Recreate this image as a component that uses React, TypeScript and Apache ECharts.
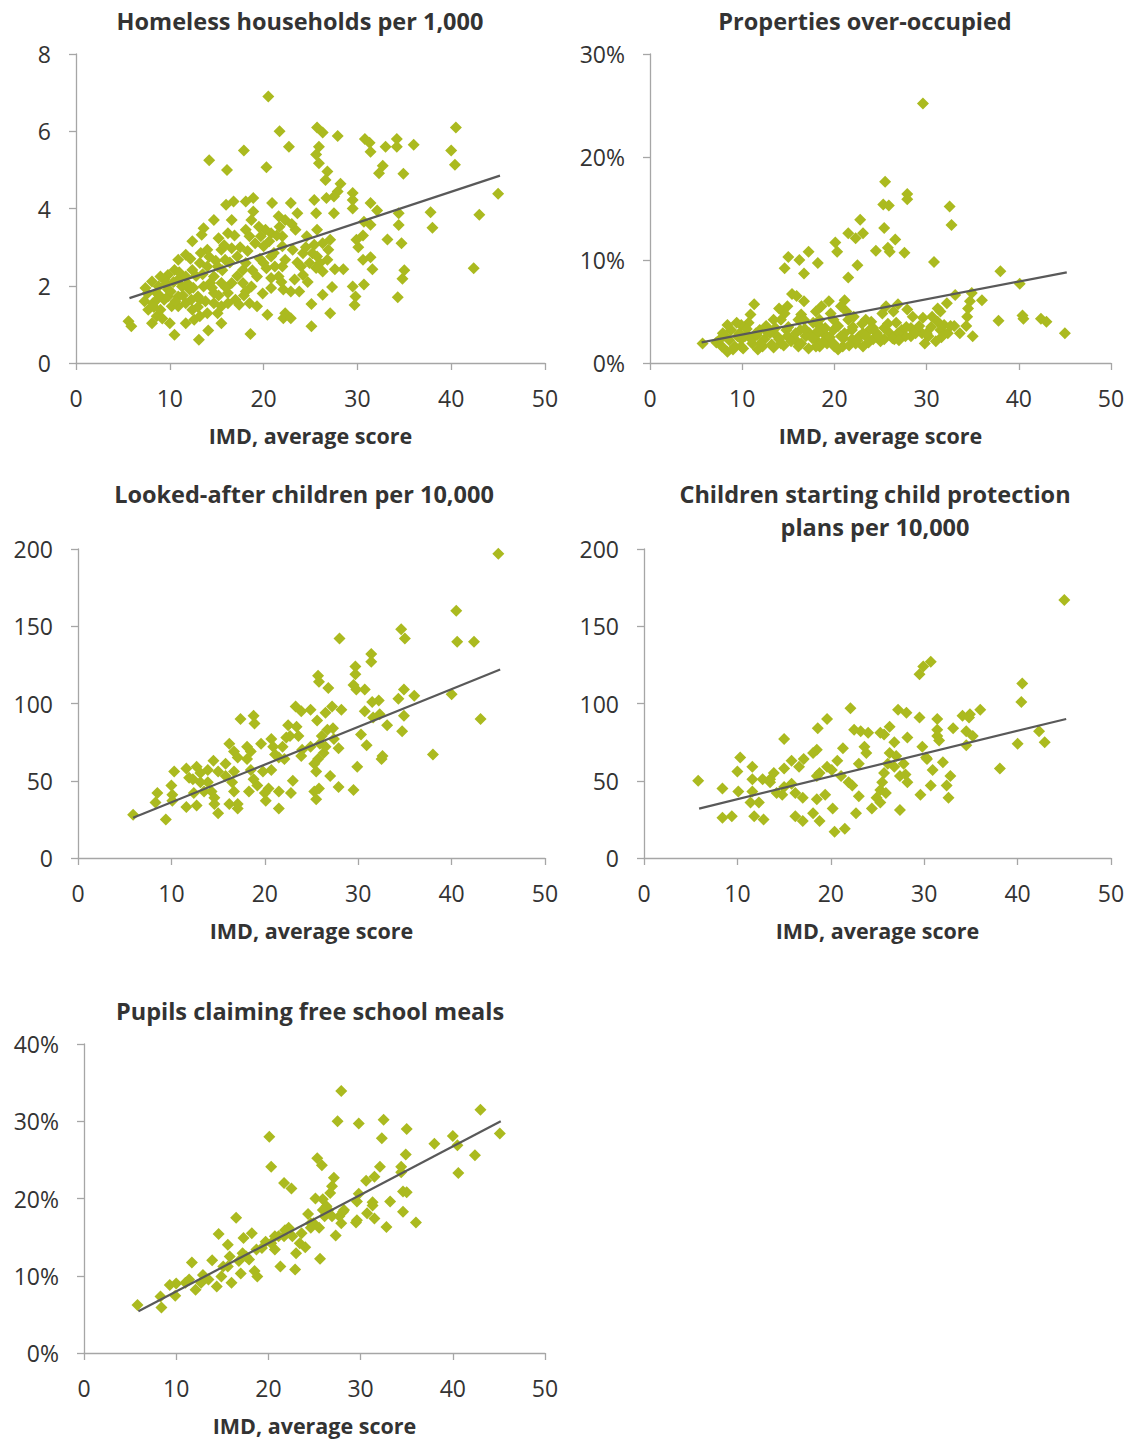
import React, { useEffect, useRef } from "react";
import * as echarts from "echarts";

// IMD average score (x) vs indicator (y)
const homeless: number[][] = [
  [20.5, 6.9], [21.7, 6.0], [22.7, 5.6], [17.9, 5.5], [14.2, 5.25], [16.1, 5.0], [20.3, 5.07],
  [25.7, 6.1], [26.3, 5.97], [27.9, 5.88], [25.9, 5.6], [25.6, 5.4], [25.9, 5.17], [26.8, 4.96],
  [26.6, 4.74], [30.8, 5.8], [31.3, 5.7], [31.4, 5.47], [33.0, 5.6], [34.2, 5.8], [34.2, 5.6],
  [36.0, 5.65], [32.7, 5.11], [32.3, 4.91], [34.9, 4.9], [40.0, 5.5], [40.5, 6.1], [40.4, 5.13],
  [45.0, 4.38], [37.8, 3.9], [38.0, 3.5], [43.0, 3.84], [42.4, 2.45], [34.4, 3.88], [34.4, 3.57],
  [34.7, 3.1], [35.0, 2.4], [34.8, 2.18], [34.3, 1.7], [33.2, 3.2], [32.1, 3.95], [31.4, 4.14],
  [31.4, 3.58], [31.4, 2.74], [31.6, 2.43], [30.6, 2.67], [30.7, 2.03], [29.5, 1.98], [29.8, 1.72],
  [29.7, 1.5], [30.1, 3.0], [29.9, 3.19], [30.6, 3.3], [30.7, 3.66], [29.5, 4.4], [29.5, 4.22],
  [29.5, 4.0], [28.2, 4.64], [27.9, 4.44], [27.5, 4.31], [26.7, 4.27], [27.5, 3.88], [27.1, 3.19],
  [26.9, 2.93], [26.8, 2.67], [26.3, 2.37], [28.5, 2.43], [27.6, 2.43], [27.3, 1.97], [27.1, 1.29],
  [26.3, 1.77], [25.1, 1.53], [25.1, 0.95], [25.4, 4.22], [25.6, 3.88], [25.7, 3.45], [25.4, 3.06],
  [25.2, 2.84], [25.7, 2.76], [25.6, 2.46], [24.6, 3.28], [24.2, 2.84], [24.0, 2.5], [24.2, 2.28],
  [23.6, 3.88], [23.4, 3.45], [22.9, 4.14], [22.3, 3.7], [21.7, 3.53], [20.9, 4.14], [21.6, 3.8],
  [20.8, 3.36], [20.2, 3.45], [19.7, 3.28], [18.9, 4.27], [18.1, 4.18], [18.9, 3.92], [18.7, 3.7],
  [18.1, 3.45], [18.5, 3.28], [16.8, 4.18], [16.0, 4.1], [16.6, 3.7], [16.2, 3.36], [15.2, 3.23],
  [14.7, 3.7], [13.6, 3.49], [13.4, 3.32], [12.4, 3.15], [14.0, 2.93], [11.7, 2.8], [10.9, 2.67],
  [10.5, 2.41], [9.8, 2.28], [9.4, 2.16], [8.8, 1.98], [8.1, 2.11], [7.4, 1.94], [7.3, 1.6],
  [7.7, 1.38], [8.1, 1.03], [8.6, 1.21], [5.6, 1.08], [5.9, 0.95], [10.0, 1.03], [10.5, 0.73],
  [11.7, 1.03], [13.1, 0.6], [14.1, 0.84], [15.5, 1.03], [14.0, 1.29], [13.2, 1.21], [12.4, 1.38],
  [11.7, 1.55], [10.9, 1.72], [10.2, 1.47], [9.4, 1.64], [9.8, 1.9], [12.1, 1.9], [13.0, 1.72],
  [14.7, 1.81], [15.5, 1.47], [16.2, 1.81], [17.0, 1.64], [17.4, 1.51], [18.5, 1.55], [19.3, 1.47],
  [18.6, 0.75], [20.4, 1.25], [20.8, 1.94], [22.3, 1.29], [22.1, 1.16], [22.9, 1.16], [22.1, 1.9],
  [22.9, 1.85], [23.8, 1.85], [23.3, 2.16], [21.6, 2.24], [21.2, 2.5], [20.0, 2.59], [20.8, 2.76],
  [19.3, 2.24], [18.7, 1.98], [18.1, 1.85], [17.8, 2.41], [18.1, 2.59], [17.2, 2.76], [16.6, 2.97],
  [15.9, 2.67], [15.1, 2.5], [14.7, 2.24], [14.0, 2.5], [13.2, 2.59], [12.4, 2.41], [11.7, 2.24],
  [10.9, 2.16], [13.6, 1.98], [14.3, 2.07], [15.5, 2.07], [16.6, 2.07], [17.8, 2.07], [20.0, 3.02],
  [22.3, 2.67], [22.0, 3.02], [23.1, 2.93], [22.0, 3.28], [19.5, 3.53], [15.5, 2.93], [9.0, 2.24],
  [8.6, 1.81], [8.2, 1.55], [9.8, 1.72], [11.3, 1.98], [10.9, 1.47], [9.0, 1.38], [8.6, 1.64],
  [12.3, 1.64], [12.6, 1.12], [13.2, 1.64], [14.7, 1.55], [15.1, 1.29], [16.2, 1.55], [20.8, 2.2],
  [22.0, 2.5], [26.3, 3.1], [26.0, 2.59], [24.9, 2.59],
  [7.6, 1.8], [8.3, 1.45], [8.9, 1.75], [9.2, 1.15], [9.6, 2.05], [10.1, 1.85], [10.4, 2.1],
  [10.6, 1.6], [11.0, 2.35], [11.4, 1.75], [11.9, 2.05], [12.2, 2.7], [12.5, 1.95], [12.8, 2.25],
  [13.0, 1.45], [13.3, 2.85], [13.5, 2.3], [13.8, 1.6], [14.2, 2.75], [14.5, 1.95], [14.9, 2.65],
  [15.2, 1.75], [15.6, 2.4], [15.8, 3.05], [16.0, 1.95], [16.4, 2.6], [16.9, 3.3], [17.2, 2.25],
  [17.5, 3.0], [17.9, 1.75], [18.3, 2.9], [18.8, 2.4], [19.1, 3.1], [19.6, 2.7], [19.9, 1.8],
  [20.3, 2.45], [20.6, 3.15], [21.1, 2.85], [21.4, 3.3], [21.9, 2.1], [23.6, 2.6], [24.5, 3.0],
  [23.0, 3.6], [24.7, 2.1],
];
const homelessTrend: number[][] = [[5.7, 1.68], [45.2, 4.85]];

const overOccupied: number[][] = [
  [29.6, 25.2], [25.5, 17.6], [27.9, 16.4], [27.9, 15.9], [25.3, 15.4], [25.9, 15.3], [32.5, 15.2],
  [32.7, 13.4], [25.4, 13.1], [22.8, 13.9], [21.5, 12.6], [22.3, 12.1], [23.1, 12.6], [26.6, 12.0],
  [25.8, 11.2], [26.0, 10.8], [24.5, 10.9], [27.6, 10.7], [20.1, 11.7], [20.3, 10.8], [22.5, 9.5],
  [21.5, 8.3], [15.0, 10.3], [14.6, 9.2], [16.2, 10.0], [17.2, 10.8], [18.2, 9.7], [16.7, 8.7],
  [30.8, 9.8], [38.0, 8.9], [40.1, 7.7], [37.8, 4.1], [40.4, 4.6], [40.5, 4.3], [42.4, 4.3],
  [43.0, 4.0], [45.0, 2.9], [36.0, 6.1], [34.9, 6.8], [34.7, 6.0], [34.5, 5.3], [34.4, 4.5],
  [34.3, 3.6], [35.0, 2.6], [33.1, 6.6], [33.0, 3.6], [32.2, 5.8], [31.5, 5.0], [31.2, 5.3],
  [30.6, 4.5], [29.6, 4.4], [31.2, 4.0], [31.5, 3.2], [32.3, 2.9], [31.0, 2.1], [29.8, 1.9],
  [29.5, 2.9], [30.2, 2.6], [27.9, 5.2], [26.9, 5.7], [26.4, 5.0], [25.6, 5.5], [25.2, 4.8],
  [25.0, 2.1], [26.5, 2.3], [27.3, 3.2], [28.3, 3.4], [28.3, 2.6], [27.7, 2.6], [26.7, 3.9],
  [26.0, 2.9], [25.4, 3.4], [24.6, 2.9], [23.8, 3.2], [23.4, 4.2], [24.0, 4.0], [23.1, 1.6],
  [22.3, 1.9], [22.7, 2.6], [21.9, 3.2], [21.5, 4.2], [21.1, 6.1], [20.7, 5.5], [21.3, 5.0],
  [22.1, 4.5], [20.4, 1.3], [20.7, 2.6], [19.9, 3.2], [19.6, 4.8], [19.4, 6.0], [18.6, 5.5],
  [18.0, 5.0], [17.9, 2.3], [18.4, 1.6], [19.2, 1.9], [18.8, 2.9], [18.4, 3.6], [17.7, 3.9],
  [17.3, 2.9], [16.7, 6.0], [15.9, 6.5], [15.4, 6.7], [16.4, 4.7], [16.1, 4.2], [16.9, 2.6],
  [16.1, 1.6], [15.7, 2.3], [14.9, 5.5], [14.6, 4.8], [14.0, 5.3], [14.2, 4.2], [14.8, 3.2],
  [14.2, 1.9], [13.4, 1.5], [13.0, 2.9], [12.4, 2.3], [11.9, 3.2], [11.3, 5.7], [10.9, 4.7],
  [10.7, 3.9], [11.7, 1.3], [11.1, 1.9], [10.3, 2.6], [9.9, 3.7], [9.4, 3.9], [8.8, 3.2],
  [8.4, 3.7], [8.2, 2.6], [7.8, 1.6], [8.4, 1.1], [7.6, 2.3], [5.7, 1.9], [9.2, 1.6],
  [9.5, 2.6], [9.9, 1.6], [12.2, 1.6], [13.8, 2.6], [14.9, 2.6], [16.3, 3.2], [18.0, 2.7],
  [19.9, 1.9], [21.1, 2.9], [23.1, 2.9], [24.2, 2.3], [25.4, 2.3], [26.9, 2.9], [28.5, 4.5],
  [30.0, 2.9], [31.9, 3.7], [13.4, 4.2], [12.6, 3.6], [11.5, 2.9], [10.7, 2.6], [16.7, 4.2],
  [18.4, 4.2], [19.9, 4.2], [18.0, 1.6], [20.9, 1.6], [21.9, 2.3], [23.4, 2.6], [19.2, 2.6],
  [9.9, 2.3],
  [7.2, 2.0], [7.9, 2.9], [8.6, 2.2], [9.0, 1.3], [9.7, 2.9], [10.1, 1.4], [10.5, 3.3],
  [11.0, 2.3], [11.6, 2.7], [12.0, 1.9], [12.7, 3.0], [13.2, 1.8], [13.6, 3.4], [14.0, 2.3],
  [14.5, 1.7], [15.0, 3.5], [15.3, 2.1], [15.8, 2.9], [16.4, 1.9], [16.8, 3.3], [17.2, 1.4],
  [17.6, 2.4], [18.2, 3.1], [18.7, 2.0], [19.0, 3.4], [19.5, 2.5], [20.0, 1.6], [20.4, 3.6],
  [21.0, 2.4], [21.6, 1.7], [22.0, 3.5], [22.5, 2.2], [23.0, 3.8], [23.7, 2.0], [24.2, 3.4],
  [24.8, 2.6], [25.8, 3.8], [26.3, 2.4], [27.0, 2.2], [27.8, 3.5], [28.8, 2.9], [29.2, 3.6],
  [30.5, 3.5], [31.6, 2.5], [32.6, 3.6], [33.6, 2.9],
];
const overOccupiedTrend: number[][] = [[5.6, 2.0], [45.2, 8.8]];

const lookedAfter: number[][] = [
  [45.0, 197], [40.5, 160], [40.6, 140], [42.4, 140], [43.1, 90], [40.0, 106], [38.0, 67],
  [34.6, 148], [35.0, 142], [36.0, 105], [34.9, 109], [34.3, 103], [34.9, 92], [34.7, 82],
  [33.1, 86], [32.6, 66], [32.5, 64], [32.2, 102], [31.5, 101], [31.4, 132], [31.4, 127],
  [32.3, 93], [31.6, 91], [30.7, 109], [29.7, 124], [29.7, 119], [29.5, 112], [29.8, 109],
  [30.7, 95], [30.9, 73], [30.3, 80], [29.9, 59], [29.5, 44], [28.0, 142], [26.8, 110],
  [25.7, 118], [25.8, 114], [25.6, 89], [24.9, 96], [23.9, 95], [23.3, 98], [28.2, 96],
  [27.2, 98], [26.5, 94], [27.3, 84], [26.7, 83], [27.4, 77], [27.9, 71], [27.0, 53],
  [27.9, 46], [26.3, 68], [25.7, 64], [25.3, 61], [25.5, 56], [25.8, 45], [25.3, 43],
  [25.5, 38], [26.5, 72], [25.9, 74], [24.9, 72], [23.9, 66], [23.6, 79], [23.4, 85],
  [22.5, 86], [22.3, 78], [21.9, 72], [22.1, 64], [23.0, 50], [22.8, 42], [21.5, 43],
  [21.5, 32], [20.7, 77], [20.9, 72], [21.1, 67], [20.7, 57], [20.4, 45], [20.0, 42],
  [20.1, 37], [19.6, 74], [18.8, 92], [18.9, 87], [17.4, 90], [18.1, 72], [18.5, 69],
  [18.1, 64], [18.5, 57], [18.8, 51], [18.3, 43], [19.2, 47], [19.8, 56], [16.2, 74],
  [16.7, 69], [17.1, 65], [15.8, 61], [16.7, 56], [16.5, 49], [16.7, 43], [16.2, 35],
  [17.1, 32], [17.1, 35], [14.5, 63], [15.0, 56], [13.9, 57], [13.1, 55], [12.7, 59],
  [11.6, 58], [11.9, 52], [12.3, 51], [13.9, 49], [13.5, 43], [14.3, 43], [14.6, 39],
  [14.6, 35], [15.0, 29], [12.7, 34], [11.6, 33], [10.3, 56], [10.0, 47], [10.1, 41],
  [10.1, 37], [8.5, 42], [8.3, 36], [9.4, 25], [12.4, 42], [5.9, 28], [13.1, 49],
  [15.8, 53], [21.5, 65], [22.7, 79], [24.0, 70], [26.1, 79],
];
const lookedAfterTrend: number[][] = [[5.9, 26], [45.2, 122]];

const protection: number[][] = [
  [45.0, 167], [40.5, 113], [40.4, 101], [40.0, 74], [42.3, 82], [42.9, 75], [38.1, 58],
  [36.0, 96], [34.9, 93], [34.1, 92], [34.8, 91], [34.5, 82], [35.2, 79], [34.5, 73],
  [33.1, 84], [31.4, 90], [31.4, 83], [31.4, 79], [31.6, 76], [32.0, 62], [32.8, 53],
  [32.4, 47], [32.6, 39], [29.5, 119], [29.9, 124], [30.7, 127], [29.5, 91], [29.8, 72],
  [30.2, 65], [30.3, 64], [30.9, 57], [30.7, 47], [29.6, 41], [27.2, 96], [28.1, 94],
  [28.2, 78], [26.8, 75], [26.3, 85], [25.7, 80], [25.3, 81], [24.0, 81], [23.2, 82],
  [22.5, 83], [22.1, 97], [19.6, 90], [18.6, 84], [18.5, 70], [18.1, 68], [17.1, 64],
  [16.6, 59], [15.8, 63], [15.0, 77], [15.0, 58], [13.9, 55], [13.5, 51], [12.7, 51],
  [11.6, 59], [11.6, 51], [11.6, 43], [11.4, 36], [12.3, 36], [11.8, 27], [12.8, 25],
  [10.3, 65], [10.0, 56], [10.1, 43], [8.4, 45], [8.4, 26], [9.4, 27], [5.8, 50],
  [14.2, 42], [15.0, 46], [15.8, 48], [16.2, 42], [17.0, 39], [16.2, 27], [17.0, 24],
  [18.1, 29], [18.8, 24], [18.5, 38], [19.4, 41], [18.8, 55], [19.6, 59], [20.2, 32],
  [20.4, 17], [21.5, 19], [22.7, 29], [23.0, 40], [24.4, 32], [20.7, 63], [21.3, 71],
  [21.1, 53], [21.9, 49], [22.3, 47], [23.0, 61], [23.6, 72], [23.8, 68], [24.9, 39],
  [25.3, 44], [25.5, 49], [25.7, 55], [26.1, 61], [26.3, 68], [25.9, 42], [26.8, 59],
  [27.4, 31], [27.4, 53], [27.8, 61], [28.2, 49], [28.0, 54], [27.0, 66], [25.3, 36],
  [20.1, 57], [18.5, 53], [13.5, 49], [14.8, 41],
];
const protectionTrend: number[][] = [[5.9, 32], [45.2, 90]];

const freeMeals: number[][] = [
  [27.9, 33.9], [27.5, 30.0], [29.8, 29.7], [32.5, 30.2], [43.0, 31.5], [45.1, 28.4], [35.0, 29.0],
  [40.0, 28.1], [38.0, 27.1], [40.5, 26.9], [32.3, 27.8], [42.4, 25.6], [40.6, 23.3], [34.9, 25.7],
  [34.4, 24.1], [34.4, 23.4], [32.1, 24.1], [34.6, 20.9], [35.0, 20.8], [34.6, 18.3], [36.0, 16.9],
  [33.2, 19.6], [32.8, 16.3], [31.5, 22.8], [30.6, 22.3], [31.3, 19.5], [31.3, 19.1], [31.5, 17.4],
  [30.7, 18.1], [29.6, 17.2], [29.8, 20.6], [29.6, 19.6], [29.5, 16.9], [20.1, 28.0], [20.3, 24.1],
  [21.7, 22.0], [22.5, 21.3], [25.3, 25.2], [25.8, 24.3], [27.1, 22.7], [26.9, 21.6], [26.7, 20.7],
  [25.1, 20.0], [25.9, 19.9], [26.3, 19.0], [24.3, 18.0], [24.9, 16.8], [25.5, 16.2], [27.3, 15.2],
  [27.9, 16.8], [28.1, 18.3], [25.6, 12.2], [24.0, 13.7], [22.9, 10.8], [21.3, 11.2], [23.0, 12.9],
  [23.4, 14.2], [22.2, 16.2], [21.7, 15.1], [20.7, 13.4], [19.7, 14.4], [18.7, 13.4], [18.2, 15.5],
  [18.8, 9.9], [18.5, 10.6], [17.9, 12.1], [17.3, 14.9], [16.5, 17.5], [17.2, 12.9], [17.0, 10.3],
  [16.0, 9.1], [15.8, 12.5], [15.6, 14.0], [14.6, 15.4], [15.6, 11.2], [14.9, 9.9], [14.4, 8.6],
  [13.9, 12.0], [12.9, 10.1], [12.7, 9.1], [11.7, 11.7], [12.1, 8.2], [11.4, 9.5], [10.0, 9.0],
  [9.9, 7.4], [9.3, 8.8], [8.3, 7.3], [8.4, 5.9], [5.8, 6.2], [11.0, 9.1], [13.5, 9.5],
  [15.1, 11.2], [16.8, 11.9], [17.6, 12.5], [19.3, 13.6], [20.3, 14.2], [21.1, 15.1], [21.8, 15.9],
  [22.6, 15.1], [23.6, 15.5], [24.6, 16.8], [26.1, 17.7], [26.9, 17.7], [27.7, 17.7], [26.5, 18.5],
  [25.9, 18.5], [28.2, 18.5], [24.6, 16.2], [20.7, 15.1],
];
const freeMealsTrend: number[][] = [[5.9, 5.4], [45.2, 30.0]];

const titles: string[][] = [
  ["Homeless households per 1,000"],
  ["Properties over-occupied"],
  ["Looked-after children per 10,000"],
  ["Children starting child protection", "plans per 10,000"],
  ["Pupils claiming free school meals"],
];
const xAxisName = "IMD, average score";
const yMax = [8, 30, 200, 200, 40];
const yStep = [2, 10, 50, 50, 10];
const yPercent = [false, true, false, false, true];

const FONT = "'Open Sans', 'Noto Sans', sans-serif";
const GREEN = "#abba1f";
const TEXT = "#333333";

// layout (pixels)
const grids = [
  { left: 76, top: 54, width: 469, height: 309, cx: 300, ty: 21 },
  { left: 650, top: 54, width: 461, height: 309, cx: 865, ty: 21 },
  { left: 78, top: 549, width: 467, height: 309, cx: 304, ty: 494 },
  { left: 644, top: 549, width: 467, height: 309, cx: 875, ty: 494 },
  { left: 84, top: 1044, width: 461, height: 309, cx: 310, ty: 1011 },
];

export default function App() {
  const ref = useRef<HTMLDivElement>(null);
  useEffect(() => {
    if (!ref.current) return;
    const chart = echarts.init(ref.current, undefined, { renderer: "svg" });
    const scatterData = [homeless, overOccupied, lookedAfter, protection, freeMeals];
    const trendData = [homelessTrend, overOccupiedTrend, lookedAfterTrend, protectionTrend, freeMealsTrend];

    const graphic: any[] = [];
    grids.forEach((g, i) => {
      titles[i].forEach((line, j) => {
        graphic.push({
          type: "text",
          x: g.cx,
          y: g.ty + j * 33,
          style: {
            text: line,
            fill: TEXT,
            font: `bold 23.5px ${FONT}`,
            textAlign: "center",
            textVerticalAlign: "middle",
          },
        });
      });
    });

    const option: any = {
      animation: false,
      backgroundColor: "#ffffff",
      graphic,
      grid: grids.map((g) => ({ left: g.left, top: g.top, width: g.width, height: g.height, containLabel: false })),
      xAxis: grids.map((_, i) => ({
        type: "value",
        gridIndex: i,
        min: 0,
        max: 50,
        interval: 10,
        name: xAxisName,
        nameLocation: "middle",
        nameGap: 61,
        nameTextStyle: { fontFamily: FONT, fontWeight: "bold", fontSize: 21.5, color: TEXT },
        axisLine: { show: true, onZero: false, lineStyle: { color: "#a6a6a6", width: 1.3 } },
        axisTick: { show: true, inside: false, length: 7, lineStyle: { color: "#a6a6a6", width: 1.3 } },
        axisLabel: { fontFamily: FONT, fontSize: 23, color: TEXT, margin: 23 },
        splitLine: { show: false },
      })),
      yAxis: grids.map((_, i) => ({
        type: "value",
        gridIndex: i,
        min: 0,
        max: yMax[i],
        interval: yStep[i],
        axisLine: { show: true, lineStyle: { color: "#a6a6a6", width: 1.3 } },
        axisTick: { show: true, inside: false, length: 7, lineStyle: { color: "#a6a6a6", width: 1.3 } },
        axisLabel: {
          fontFamily: FONT,
          fontSize: 23,
          color: TEXT,
          margin: 25,
          formatter: yPercent[i] ? "{value}%" : "{value}",
        },
        splitLine: { show: false },
      })),
      series: [
        ...scatterData.map((d, i) => ({
          type: "scatter",
          xAxisIndex: i,
          yAxisIndex: i,
          data: d,
          symbol: "diamond",
          symbolSize: 12,
          itemStyle: { color: GREEN, opacity: 1 },
          z: 2,
        })),
        ...trendData.map((d, i) => ({
          type: "line",
          xAxisIndex: i,
          yAxisIndex: i,
          data: d,
          symbol: "none",
          lineStyle: { color: "#595959", width: 2.2 },
          z: 3,
        })),
      ],
    };
    chart.setOption(option);
    return () => chart.dispose();
  }, []);
  return (
    <div
      ref={ref}
      style={{ position: "absolute", left: 0, top: 0, width: 1132, height: 1440, background: "#fff" }}
    />
  );
}
